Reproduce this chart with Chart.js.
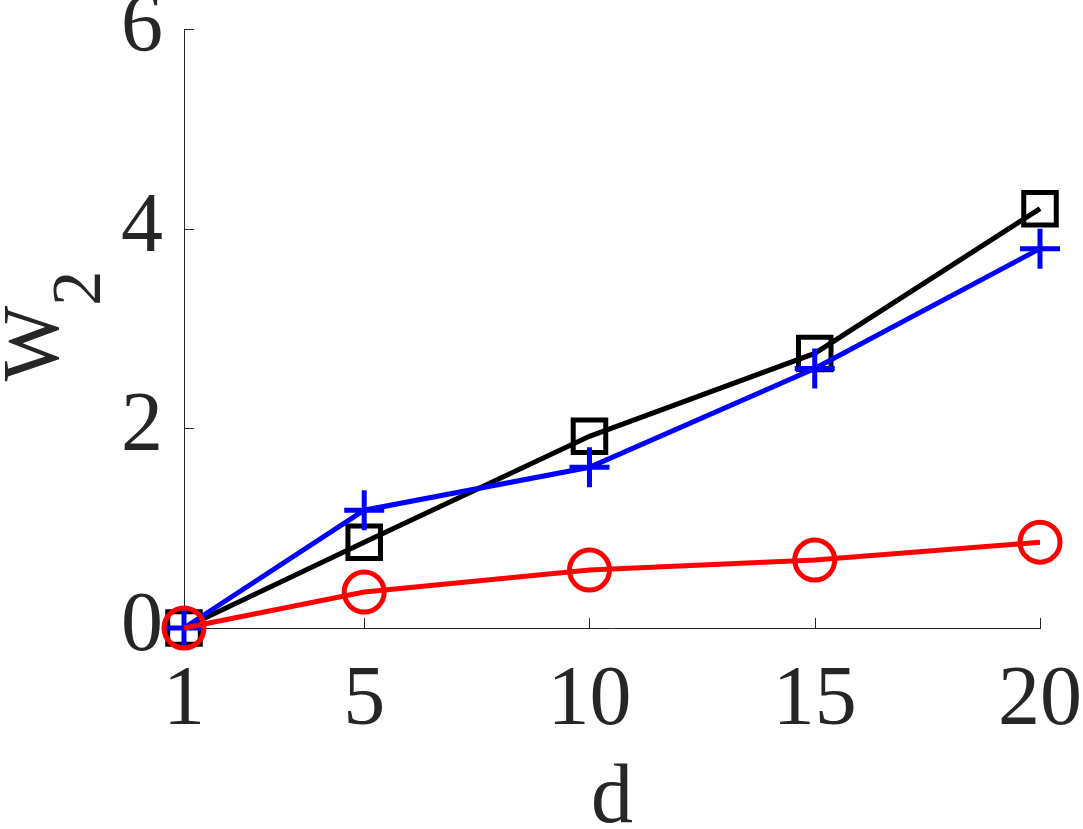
<!DOCTYPE html>
<html>
<head>
<meta charset="utf-8">
<script src="https://cdn.jsdelivr.net/npm/chart.js@4/dist/chart.umd.min.js"></script>
<style>
  html, body { margin: 0; padding: 0; background: #fff; }
  #wrap { width: 1083px; height: 829px; }
</style>
</head>
<body>
<div id="wrap"><canvas id="myChart"></canvas></div>
<script>
// values
var dValues = [1, 5, 10, 15, 20];
var squareSeries = [0, 0.86, 1.92, 2.75, 4.2];   // black squares
var plusSeries = [0, 1.18, 1.61, 2.6, 3.8];       // blue plus
var circleSeries = [0, 0.36, 0.58, 0.68, 0.86];   // red circles
var xTicks = [1, 5, 10, 15, 20];
var yTicks = [0, 2, 4, 6];

var axisColor = '#262626';
var serif = "'Liberation Serif', 'Times New Roman', serif";

function toPoints(ys) {
    return dValues.map((d, i) => ({ x: d, y: ys[i] }));
}

// inward tick marks, like the original figure
const innerTicks = {
    id: 'innerTicks',
    beforeDatasetsDraw(chart) {
        const ctx = chart.ctx;
        const a = chart.chartArea;
        const xs = chart.scales.x, ys = chart.scales.y;
        ctx.save();
        ctx.strokeStyle = axisColor;
        ctx.lineWidth = 1;
        ctx.beginPath();
        xTicks.forEach(v => {
            const px = Math.round(xs.getPixelForValue(v)) + 0.5;
            ctx.moveTo(px, a.bottom);
            ctx.lineTo(px, a.bottom - 10);
        });
        yTicks.forEach(v => {
            const py = Math.round(ys.getPixelForValue(v)) + 0.5;
            ctx.moveTo(a.left, py);
            ctx.lineTo(a.left + 10, py);
        });
        ctx.stroke();
        ctx.restore();
    }
};

// axis titles: "d" and W with subscript 2
const axisTitles = {
    id: 'axisTitles',
    afterDraw(chart) {
        const ctx = chart.ctx;
        const a = chart.chartArea;
        ctx.save();
        ctx.fillStyle = axisColor;
        ctx.font = '84px ' + serif;
        ctx.textAlign = 'center';
        ctx.textBaseline = 'alphabetic';
        ctx.fillText('d', (a.left + a.right) / 2, 822);

        // rotated y title
        const cy = 326;
        ctx.translate(58, cy);
        ctx.rotate(-Math.PI / 2);
        ctx.textAlign = 'left';
        ctx.font = '80px ' + serif;
        const wW = ctx.measureText('W').width;
        ctx.font = '70px ' + serif;
        const w2 = ctx.measureText('2').width;
        const start = -(wW + w2) / 2;
        ctx.font = '80px ' + serif;
        ctx.fillText('W', start, 0);
        ctx.font = '70px ' + serif;
        ctx.fillText('2', start + wW, 42);
        ctx.restore();
    }
};

const ctx = document.getElementById('myChart');
new Chart(ctx, {
    type: 'line',
    data: {
        datasets: [
            {
                label: 'circle',
                data: toPoints(circleSeries),
                borderColor: '#ff0000',
                backgroundColor: 'rgba(0,0,0,0)',
                borderWidth: 5,
                pointStyle: 'circle',
                pointRadius: 20,
                pointBorderWidth: 5,
                pointBorderColor: '#ff0000',
                pointBackgroundColor: 'rgba(0,0,0,0)',
                tension: 0,
                clip: false
            },
            {
                label: 'plus',
                data: toPoints(plusSeries),
                borderColor: '#0000ff',
                backgroundColor: 'rgba(0,0,0,0)',
                borderWidth: 5,
                pointStyle: 'cross',
                pointRadius: 20,
                pointBorderWidth: 5,
                pointBorderColor: '#0000ff',
                tension: 0,
                clip: false
            },
            {
                label: 'square',
                data: toPoints(squareSeries),
                borderColor: '#000000',
                backgroundColor: 'rgba(0,0,0,0)',
                borderWidth: 5,
                pointStyle: 'rect',
                pointRadius: 23,
                pointBorderWidth: 5,
                pointBorderColor: '#000000',
                pointBackgroundColor: 'rgba(0,0,0,0)',
                tension: 0,
                clip: false
            }
        ]
    },
    options: {
        responsive: true,
        maintainAspectRatio: false,
        animation: false,
        events: [],
        layout: { padding: { top: 29, right: 43, left: 0, bottom: 0 } },
        plugins: {
            legend: { display: false },
            tooltip: { enabled: false }
        },
        scales: {
            x: {
                type: 'linear',
                min: 1,
                max: 20,
                afterBuildTicks: scale => { scale.ticks = xTicks.map(v => ({ value: v })); },
                afterFit: scale => {
                    scale.height = 201;
                    scale.paddingLeft = 0;
                    scale.paddingRight = 0;
                },
                grid: { display: false, drawTicks: false },
                border: { display: true, color: axisColor, width: 1 },
                ticks: {
                    color: axisColor,
                    font: { family: serif, size: 84 },
                    padding: 24,
                    maxRotation: 0,
                    autoSkip: false
                }
            },
            y: {
                type: 'linear',
                min: 0,
                max: 6,
                afterBuildTicks: scale => { scale.ticks = yTicks.map(v => ({ value: v })); },
                afterFit: scale => {
                    scale.width = 184;
                    scale.paddingTop = 0;
                    scale.paddingBottom = 0;
                },
                grid: { display: false, drawTicks: false },
                border: { display: true, color: axisColor, width: 1 },
                ticks: {
                    color: axisColor,
                    font: { family: serif, size: 84 },
                    padding: 21,
                    autoSkip: false
                }
            }
        }
    },
    plugins: [innerTicks, axisTitles]
});
</script>
</body>
</html>
